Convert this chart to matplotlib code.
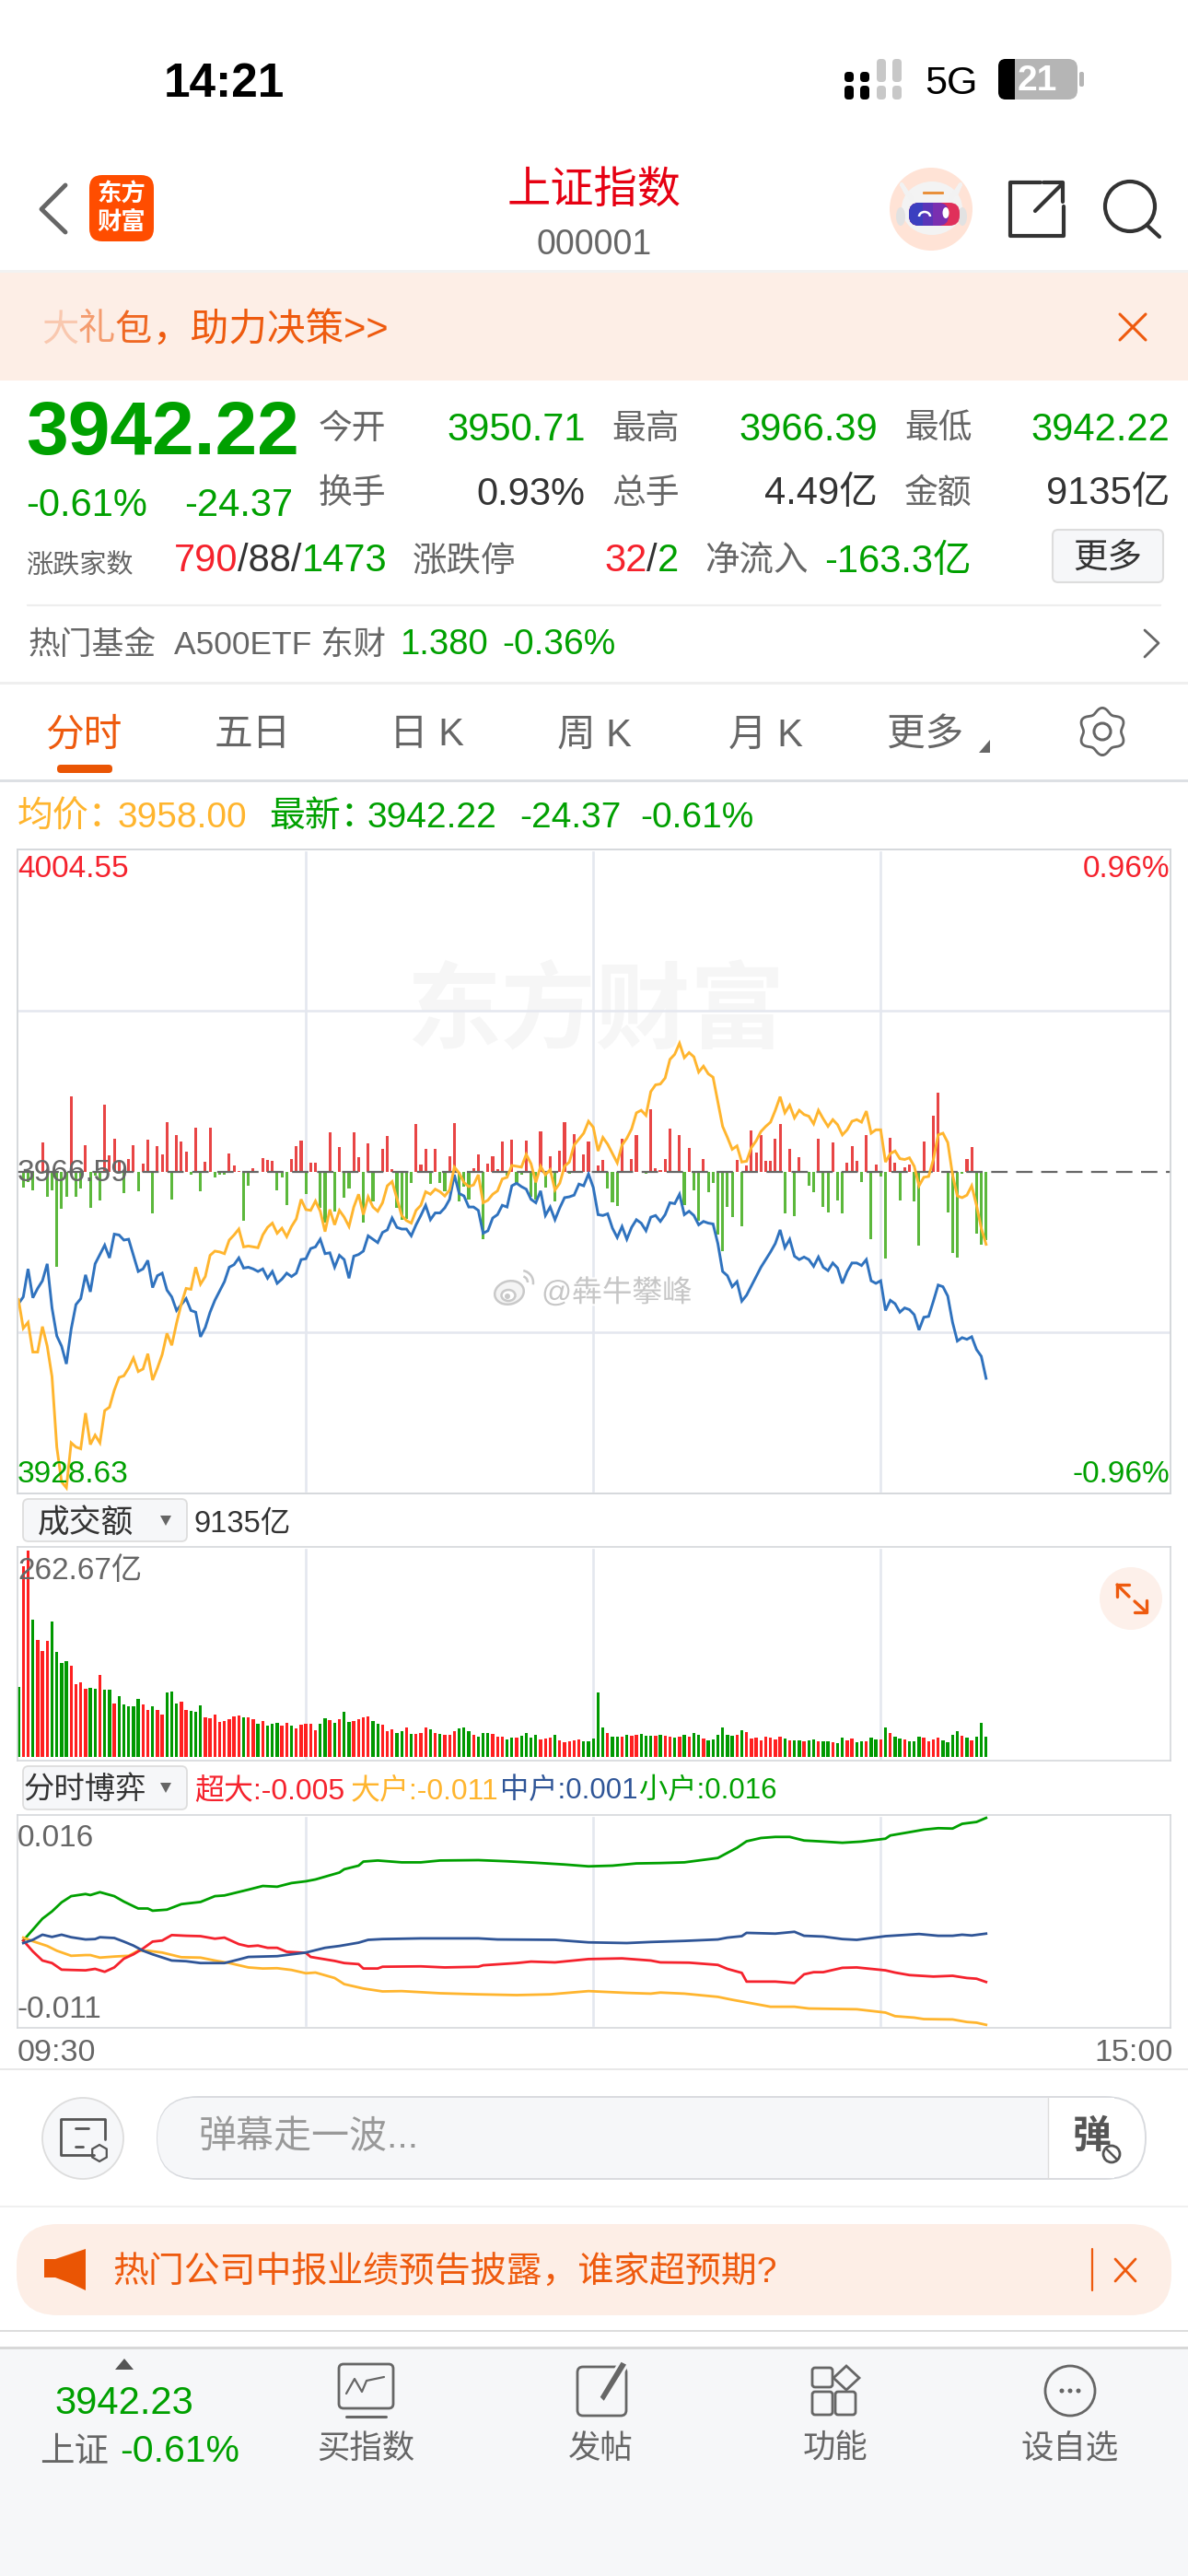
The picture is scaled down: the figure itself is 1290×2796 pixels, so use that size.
import matplotlib
matplotlib.use("Agg")
import matplotlib.pyplot as plt
import matplotlib.patheffects as pe
import numpy as np
from matplotlib.patches import Arc, Circle, Ellipse, FancyBboxPatch, Polygon, Rectangle, RegularPolygon

plt.rcParams["font.family"] = ["Liberation Sans", "Noto Sans CJK SC"]
plt.rcParams["axes.unicode_minus"] = False

# 分时 price, one value per minute from 09:30
price = [
    3951.0,3951.8,3955.1,3951.7,3952.8,3953.7,3955.7,3950.5,3947.2,3946.0,
    3943.9,3948.0,3950.9,3951.6,3954.4,3952.4,3955.7,3956.8,3957.9,3956.4,
    3959.2,3959.1,3958.5,3958.6,3956.7,3954.8,3955.1,3956.1,3952.9,3954.3,
    3954.6,3952.6,3951.8,3950.2,3950.9,3951.6,3950.2,3950.0,3947.1,3948.2,
    3950.0,3951.4,3952.5,3953.6,3955.3,3955.6,3956.4,3955.2,3955.3,3955.1,
    3954.8,3955.1,3954.0,3954.8,3953.4,3953.9,3954.6,3954.2,3954.6,3956.2,
    3956.3,3957.5,3957.7,3958.6,3956.9,3957.0,3955.3,3956.7,3956.2,3954.0,
    3956.6,3956.8,3957.2,3959.0,3958.6,3958.2,3959.4,3959.7,3961.1,3960.0,
    3959.8,3959.8,3959.0,3960.3,3961.4,3962.6,3960.9,3961.7,3961.7,3962.3,
    3963.3,3966.2,3964.0,3963.7,3962.4,3962.4,3962.0,3959.3,3959.6,3961.1,
    3961.5,3962.6,3962.4,3964.9,3965.2,3964.8,3964.5,3963.3,3962.9,3964.3,
    3961.4,3962.4,3960.9,3962.3,3963.5,3963.6,3963.8,3965.1,3964.9,3966.3,
    3964.7,3961.5,3961.4,3961.6,3959.9,3958.8,3960.1,3958.6,3960.0,3960.9,
    3960.5,3959.6,3961.2,3961.4,3960.7,3961.5,3962.9,3962.8,3963.9,3961.5,
    3961.9,3961.4,3960.3,3960.7,3960.5,3960.4,3958.1,3954.8,3954.3,3953.0,
    3953.6,3951.3,3952.0,3953.1,3954.2,3955.3,3956.2,3957.1,3958.1,3959.7,
    3957.6,3958.6,3956.6,3956.2,3956.5,3956.2,3955.4,3956.5,3955.3,3954.9,
    3955.8,3955.2,3953.4,3954.8,3955.8,3955.8,3955.5,3956.2,3953.7,3953.4,
    3953.7,3950.2,3951.4,3951.0,3950.0,3950.5,3950.3,3949.7,3947.9,3949.4,
    3949.5,3951.3,3953.2,3953.0,3951.9,3948.8,3946.6,3947.0,3946.8,3947.1,
    3945.6,3944.8,3942.2,
]

# 均价
avg_price = [
    3951.5,3948.1,3948.8,3945.3,3945.3,3948.3,3946.0,3942.4,3934.1,3930.0,
    3929.3,3934.6,3934.1,3933.9,3938.1,3934.4,3935.5,3934.6,3938.4,3938.8,
    3940.8,3942.3,3942.5,3943.4,3944.6,3943.0,3943.3,3945.1,3942.0,3943.4,
    3945.0,3947.5,3946.1,3948.7,3951.0,3952.8,3952.7,3955.3,3953.3,3954.2,
    3956.7,3957.2,3957.1,3956.9,3958.5,3959.1,3959.8,3957.7,3957.8,3957.7,
    3957.6,3959.1,3960.0,3960.5,3959.3,3959.9,3958.9,3960.1,3961.0,3963.3,
    3962.1,3962.0,3963.1,3961.9,3959.5,3962.1,3960.3,3962.0,3961.2,3960.1,
    3962.4,3963.9,3961.5,3963.6,3962.4,3961.9,3962.9,3964.9,3965.4,3963.4,
    3961.4,3960.8,3960.5,3962.0,3962.6,3964.2,3963.9,3964.5,3964.2,3963.7,
    3964.4,3967.1,3966.4,3965.3,3964.8,3965.0,3966.2,3962.9,3963.2,3963.9,
    3964.3,3965.7,3965.9,3967.3,3967.2,3967.1,3968.6,3967.5,3965.3,3967.2,
    3966.2,3966.8,3964.4,3965.2,3967.2,3967.7,3969.7,3970.4,3971.1,3972.5,
    3971.8,3969.0,3970.6,3969.8,3968.7,3967.6,3969.7,3970.5,3971.6,3973.5,
    3973.8,3973.2,3976.0,3976.8,3976.9,3977.6,3979.8,3980.4,3981.7,3980.0,
    3980.6,3980.1,3978.3,3979.0,3978.1,3977.7,3974.8,3971.9,3970.6,3969.2,
    3969.6,3967.7,3967.8,3969.4,3970.2,3971.3,3971.9,3972.4,3973.8,3975.4,
    3973.5,3974.4,3972.9,3973.8,3973.3,3973.1,3972.2,3973.8,3972.8,3971.9,
    3972.7,3972.1,3970.9,3971.5,3972.5,3972.7,3972.4,3973.7,3971.1,3971.5,
    3971.5,3967.7,3968.7,3969.0,3968.1,3968.0,3968.2,3967.2,3964.9,3965.9,
    3966.0,3968.0,3970.9,3971.1,3970.0,3966.2,3963.7,3963.5,3963.8,3964.9,
    3962.6,3959.9,3958.0,
]

# red/green strength bars round the prev close line, in their own units
flow_bars = [
    0,-38,-25,-45,0,67,-60,-45,-222,-88,
    -60,175,-60,-40,62,-85,-10,-68,156,37,
    77,25,-50,28,62,-46,18,75,-97,60,
    40,114,-65,84,70,47,-7,101,-46,22,
    101,-15,-8,-8,41,14,1,-115,-33,8,
    -2,31,26,25,-45,-13,-78,28,60,73,
    -52,20,21,-85,-120,92,-93,57,-62,-40,
    91,34,-120,65,-70,0,53,83,5,-85,
    -112,-110,-27,111,17,53,-30,52,-27,-47,
    36,113,-70,-35,-65,8,40,-157,19,36,
    5,70,-10,74,-30,-8,72,-60,-65,94,
    -38,36,-70,48,114,-5,88,0,40,70,
    0,15,27,-40,-72,-80,76,0,30,84,
    0,-6,144,8,4,30,100,0,85,-78,
    54,-44,-115,30,-48,-27,-148,-185,-82,-107,
    27,-127,14,96,43,84,24,25,76,110,
    -97,53,-105,33,0,-33,-48,76,-82,-95,
    67,-68,-98,21,58,24,-24,84,-158,17,
    -12,-203,78,20,-68,10,17,-70,-172,69,
    0,130,183,-3,-95,-190,-200,-5,28,57,
    -146,-170,-159,
]

# 成交额 per minute, 亿
turnover = [
    89.0,243.2,262.7,174.7,149.2,135.3,147.8,172.3,133.9,120.0,
    121.8,116.3,93.6,95.0,87.6,88.5,86.6,104.2,85.7,85.7,
    68.6,77.8,67.2,64.4,64.4,74.1,67.2,59.8,64.4,60.2,
    54.2,82.0,83.9,68.6,70.9,60.2,58.8,58.4,65.8,51.0,
    49.6,54.2,44.9,46.3,49.1,52.4,53.3,51.0,51.0,48.6,
    42.6,45.9,40.3,42.2,43.6,40.3,44.0,40.3,36.6,41.7,
    42.6,42.6,34.7,42.6,49.6,47.7,44.0,49.1,57.4,44.5,
    45.9,49.1,51.0,51.9,46.8,42.6,41.7,33.8,35.7,31.0,
    33.8,38.0,30.1,30.1,30.6,38.0,35.2,31.5,29.7,28.7,
    28.7,32.9,36.6,37.5,33.4,29.2,26.4,31.0,31.0,29.7,
    26.4,25.9,22.7,25.5,24.6,27.3,30.6,25.0,29.2,22.7,
    24.1,24.6,29.2,21.8,19.0,19.9,21.8,22.7,19.9,20.4,
    23.6,82.5,38.0,31.0,26.9,26.9,26.9,28.7,27.3,28.3,
    29.7,27.3,27.3,27.3,29.2,27.3,26.9,25.0,26.4,28.7,
    26.4,31.0,28.3,23.6,22.2,23.2,28.7,38.5,28.7,27.3,
    28.3,34.7,32.0,24.1,25.0,21.8,25.9,24.6,23.2,26.4,
    24.1,21.3,21.3,21.8,20.4,21.3,22.7,19.9,19.9,19.9,
    19.5,18.5,25.0,21.8,24.1,19.5,19.9,20.4,25.5,22.7,
    22.7,38.5,30.6,26.4,24.1,22.7,20.4,20.8,26.9,24.6,
    19.9,23.2,24.6,22.2,19.5,28.7,32.9,27.3,24.6,22.2,
    26.4,44.0,26.9,
]
turnover_dir = (
    "GRRGRRRGGG" "GRRRRGGRGG" "RGGGGGRRGR" "RGGGRRGGGR" "RRRRRRRGRR"
    "GRGGGRRGRR" "RRRGGRGRGG" "RRRRGGRRRG" "GRGRRRGRGR" "RRGGGRGGGR"
    "RRGGRGGGGR" "RRGRRRRRGG" "GGGRGGRGRR" "GGGRGRRGRG" "RGGRGGGGGG"
    "RGRRRRRRRR" "GRGGRGGRGG" "RGGRRGGRGG" "RGRGGRGGGR" "RRRGGGGRGR" "GGG"
)

# 分时博弈, sampled minutes and values in units of 0.001
green_min = [1,3,5,7,9,11,14,15,17,20,22,25,27,28,31,34,38,41,43,48,51,54,57,60,62,67,68,71,72,75,80,84,88,96,102,108,114,119,124,129,134,139,146,148,150,152,155,158,161,164,167,172,176,181,182,186,189,192,195,197,200,202]
green_val = [0,1.42,2.85,3.80,4.98,5.79,6.07,5.93,6.31,5.79,5.08,4.18,4.18,3.89,4.03,4.75,5.03,5.79,5.88,6.64,7.12,7.02,7.50,7.73,7.97,8.87,9.30,9.77,10.30,10.44,10.20,10.20,10.44,10.49,10.34,10.15,9.92,9.68,9.77,10.06,10.11,10.20,10.77,11.44,12.10,12.95,13.38,13.52,13.52,13.05,12.95,12.76,12.91,13.29,13.71,14.14,14.47,14.66,14.61,15.23,15.47,16.0]
yellow_min = [1,3,6,8,11,14,15,17,20,23,25,27,30,34,38,41,44,48,51,54,57,60,62,66,68,72,76,80,88,96,104,111,119,127,132,134,139,146,149,152,157,162,165,170,175,181,183,187,189,195,198,200,202]
yellow_val = [0.38,-0.09,-0.71,-1.33,-1.99,-1.90,-1.90,-2.23,-2.09,-1.99,-1.33,-1.33,-1.57,-2.18,-2.23,-2.61,-2.94,-3.51,-3.65,-3.61,-3.84,-4.27,-4.18,-4.89,-5.69,-6.26,-6.64,-6.60,-6.88,-7.02,-7.12,-7.02,-6.60,-6.83,-6.93,-6.79,-6.93,-7.35,-7.73,-8.07,-8.64,-8.64,-8.87,-8.92,-8.97,-9.40,-9.87,-10.06,-10.25,-10.30,-10.63,-10.72,-11.0]
red_min = [1,3,5,7,9,11,14,16,18,20,22,24,26,28,30,32,35,38,41,43,46,48,50,52,54,56,60,61,66,68,71,72,75,76,84,89,96,97,104,107,112,119,126,132,134,140,146,148,151,152,158,162,164,166,168,172,175,181,183,186,191,195,198,200,202]
red_val = [0,-1.42,-2.61,-2.94,-3.80,-3.84,-3.89,-3.70,-4.08,-3.51,-2.37,-1.80,-1.04,-0.14,0,0.71,0.62,0.57,0.24,0.38,-0.47,-0.76,-0.66,-0.95,-0.95,-1.47,-1.61,-2.14,-2.66,-2.94,-3.08,-3.65,-3.65,-3.42,-3.37,-3.51,-3.42,-3.23,-2.94,-2.75,-2.85,-2.42,-2.33,-2.61,-2.85,-2.89,-3.18,-3.70,-4.22,-5.36,-5.36,-5.55,-4.41,-4.13,-4.13,-3.56,-3.51,-3.89,-4.18,-4.51,-4.70,-4.60,-4.89,-4.98,-5.41]
blue_min = [1,3,5,7,9,11,14,16,17,20,22,24,26,28,32,35,38,43,46,48,54,60,64,67,71,73,76,84,96,100,112,119,127,132,139,146,148,151,152,158,162,164,168,172,175,181,188,192,195,197,199,202]
blue_val = [-0.33,0.09,0.76,0.47,0.76,0.43,0.14,0.19,0.43,0.33,-0.14,-0.66,-1.33,-1.80,-2.61,-2.70,-2.94,-2.94,-2.47,-2.14,-2.04,-1.57,-0.95,-0.71,-0.28,0.09,0.19,0.28,0.28,0.14,0.09,-0.24,-0.33,-0.19,-0.05,0.14,0.38,0.57,1.0,0.90,1.14,0.62,0.52,0.19,0.09,0.57,0.85,0.62,0.62,0.76,0.66,0.90]

prev_close = 3966.59
price_span = 37.96
grid_minutes = [60, 120, 180]

RED = "#F5222D"
GREEN = "#00A000"
ORANGE = "#EE5A0E"
YELLOW = "#FFB52E"
BLUE = "#2F72BE"
DARK = "#333333"
GREY = "#666666"
FRAME = "#D5D8DC"
GRID = "#E4E7EF"
PEACH = "#FDEEE6"
PANEL = "#F6F7F9"

W, H = 1290, 2796
fig = plt.figure(figsize=(W / 100, H / 100), dpi=100, facecolor="white")


def rect(x0, y0, x1, y1):
    return [x0 / W, 1 - y1 / H, (x1 - x0) / W, (y1 - y0) / H]


def make_layer(z):
    a = fig.add_axes([0, 0, 1, 1], zorder=z)
    a.set_xlim(0, W)
    a.set_ylim(H, 0)
    a.axis("off")
    a.patch.set_alpha(0)
    return a


back = make_layer(0)
ui = make_layer(5)
renderer = fig.canvas.get_renderer()


def txt(x, y, s, fs, color=DARK, ha="left", weight="normal", alpha=1, layer=None):
    # text sits a little high with va=center, nudge it down
    return (layer or ui).text(x, y + 5.5, s, fontsize=fs, color=color, ha=ha, va="center",
                              fontweight=weight, alpha=alpha)


def seq(x, y, parts, fs):
    for s, c in parts:
        t = txt(x, y, s, fs, c)
        x += t.get_window_extent(renderer).width


def line(xs, ys, color, lw=2.0, layer=None, **kw):
    (layer or ui).plot(xs, ys, color=color, lw=lw, solid_capstyle="round", **kw)


def rbox(x0, y0, x1, y1, r, fc, ec="none", lw=1.0, layer=None):
    (layer or ui).add_patch(FancyBboxPatch((x0, y0), x1 - x0, y1 - y0,
                                           boxstyle=f"round,pad=0,rounding_size={r}",
                                           fc=fc, ec=ec, lw=lw))


def panel_axes(x0, y0, x1, y1, z=1):
    a = fig.add_axes(rect(x0, y0, x1, y1), zorder=z)
    a.set_xlim(-0.3, 240.5)
    a.set_xticks([])
    a.set_yticks([])
    a.patch.set_alpha(0)
    for s in a.spines.values():
        s.set_color(FRAME)
        s.set_linewidth(1.2)
    return a


# ---- main price panel
ax_flow = panel_axes(18.5, 922, 1271, 1621, z=1)
ax_flow.set_ylim(-750.7, 750.7)
minutes = np.arange(len(price))
for m in grid_minutes:
    ax_flow.axvline(m, ymin=0.005, ymax=0.995, color=GRID, lw=1.9, zorder=0)
ax_flow.axhline(375, color=GRID, lw=1.8, zorder=0)
ax_flow.axhline(-375, color=GRID, lw=1.8, zorder=0)
flow = np.array(flow_bars)
ax_flow.bar(minutes, flow, width=0.6, color=np.where(flow > 0, "#E84545", "#5CB83C"), zorder=1)

ax_price = panel_axes(18.5, 922, 1271, 1621, z=2)
ax_price.set_ylim(prev_close - price_span, prev_close + price_span)
ax_price.axhline(prev_close, color="#666666", lw=1.6, dashes=(8.0, 4.2))
ax_price.plot(minutes, price, color=BLUE, lw=2.1, solid_joinstyle="miter")
ax_price.plot(minutes, avg_price, color=YELLOW, lw=2.1, solid_joinstyle="miter")

# ---- turnover panel
ax_vol = panel_axes(18.5, 1679, 1271, 1911)
ax_vol.set_ylim(-4.1, 267.4)
for m in grid_minutes:
    ax_vol.axvline(m, ymin=0.015, ymax=0.985, color=GRID, lw=1.9, zorder=0)
ax_vol.bar(np.arange(len(turnover)), turnover, width=0.64,
           color=["#FF2020" if d == "R" else "#009900" for d in turnover_dir], zorder=1)

# ---- 分时博弈 panel
ax_game = panel_axes(18.5, 1970, 1271, 2201)
ax_game.set_ylim(-0.01139, 0.01638)
for m in grid_minutes:
    ax_game.axvline(m, ymin=0.015, ymax=0.985, color=GRID, lw=1.9, zorder=0)
ax_game.plot(green_min, np.array(green_val) / 1000, color=GREEN, lw=2.0)
ax_game.plot(yellow_min, np.array(yellow_val) / 1000, color=YELLOW, lw=2.0)
ax_game.plot(red_min, np.array(red_val) / 1000, color="#F5222D", lw=2.0)
ax_game.plot(blue_min, np.array(blue_val) / 1000, color="#2F5597", lw=2.0)

# ---- watermarks
txt(647, 1098, "东方财富", 74, "#F6F6F6", ha="center", weight="bold", layer=back)
ui.add_patch(Ellipse((553, 1403), 32, 25, angle=-15, fc="#F4F4F4", ec="#C9C9C9", lw=1.8))
ui.add_patch(Ellipse((552, 1406), 15, 12, fc="white", ec="#C9C9C9", lw=1.8))
ui.add_patch(Circle((551, 1407), 3, fc="#C9C9C9", ec="none"))
ui.add_patch(Arc((566, 1392), 14, 14, theta1=-70, theta2=0, ec="#C9C9C9", lw=1.8))
ui.add_patch(Arc((566, 1392), 26, 26, theta1=-80, theta2=10, ec="#C9C9C9", lw=1.8))
wb = txt(588, 1398, "@犇牛攀峰", 23.5, "#C6C6C6")
wb.set_path_effects([pe.withStroke(linewidth=3, foreground="white")])

# ---- status bar
txt(243, 86, "14:21", 37, "black", ha="center", weight="bold")
for cx, tall, col in [(922, 0, "black"), (939, 0, "black"), (957, 1, "#C8C8C8"), (974, 1, "#C8C8C8")]:
    rbox(cx - 5, 93, cx + 5, 108, 4, col)
    rbox(cx - 5, 64 if tall else 78, cx + 5, 89, 4, col)
txt(1033, 86, "5G", 31, "black", ha="center")
rbox(1084, 64, 1170, 108, 10, "#B5B5B5")
rbox(1084, 64, 1102, 108, 8, "black")
ui.add_patch(Rectangle((1094, 64), 8, 44, fc="black", ec="none"))
txt(1126, 82, "21", 28, "white", ha="center", weight="bold")
rbox(1172, 78, 1177, 94, 2, "#B5B5B5")

# ---- nav bar
line([71, 45, 71], [201, 227, 252], GREY, lw=3.5)
rbox(97, 190, 167, 262, 14, "#FF4D00")
txt(132, 206, "东方", 19, "white", ha="center", weight="bold")
txt(132, 236, "财富", 19, "white", ha="center", weight="bold")
txt(645, 202, "上证指数", 34, "#E60012", ha="center")
txt(645, 260, "000001", 27, GREY, ha="center")
# robot avatar
ui.add_patch(Circle((1011, 227), 45, fc="#FFE3D6", ec="none"))
line([984, 979, 990], [210, 200, 216], "#F2F2F2", lw=3)
line([1039, 1043, 1032], [210, 200, 216], "#F2F2F2", lw=3)
ui.add_patch(Ellipse((1012, 226), 66, 58, fc="#F3F3F3", ec="none"))
ui.add_patch(Ellipse((978, 235), 10, 20, fc="#E2E2E2", ec="none"))
ui.add_patch(Ellipse((1045, 235), 10, 20, fc="#E2E2E2", ec="none"))
rbox(1002, 208, 1025, 211, 1, "#E9903A")
rbox(987, 220, 1042, 245, 11, "#E0305A")
rbox(987, 220, 1030, 245, 11, "#7A2FB0")
rbox(987, 220, 1013, 245, 11, "#3B3FC0")
ui.add_patch(Rectangle((1002, 220), 11, 25, fc="#5A35B8", ec="none"))
ui.add_patch(Arc((1004, 235), 12, 10, theta1=180, theta2=360, ec="white", lw=1.8))
ui.add_patch(Ellipse((1027, 231), 7, 12, fc="white", ec="none"))
line([1130, 1097, 1097, 1155, 1155], [198, 198, 256, 256, 224], DARK, lw=3)
line([1124, 1154], [229, 199], DARK, lw=3)
line([1133, 1154, 1154], [198, 198, 219], DARK, lw=3)
ui.add_patch(Circle((1227, 224), 27, fc="none", ec=DARK, lw=3))
line([1246, 1259], [245, 257], DARK, lw=3)

# ---- promo banner
ui.add_patch(Rectangle((0, 293), W, 3, fc="#F2F2F2", ec="none"))
ui.add_patch(Rectangle((0, 296), W, 117, fc=PEACH, ec="none"))
for i, (ch, al) in enumerate(zip("大礼包", (0.25, 0.55, 0.9))):
    txt(45 + 40 * i, 353, ch, 29, ORANGE, alpha=al)
txt(165, 353, "，助力决策>>", 30, ORANGE)
line([1216, 1244], [341, 369], ORANGE, lw=2.2)
line([1216, 1244], [369, 341], ORANGE, lw=2.2)

# ---- quote block
txt(28, 467, "3942.22", 59, GREEN, weight="bold")
for label, x, val, xr, col, y in [
    ("今开", 346, "3950.71", 636, GREEN, 461),
    ("最高", 664, "3966.39", 953, GREEN, 461),
    ("最低", 982, "3942.22", 1270, GREEN, 461),
    ("换手", 346, "0.93%", 635, DARK, 531),
    ("总手", 664, "4.49亿", 953, DARK, 531),
    ("金额", 982, "9135亿", 1270, DARK, 531),
]:
    txt(x, y, label, 26.5, GREY)
    txt(xr, y, val, 30, col, ha="right")
txt(28, 543, "-0.61%", 30, GREEN)
txt(318, 543, "-24.37", 30, GREEN, ha="right")
txt(28, 609, "涨跌家数", 21, GREY)
seq(189, 604, [("790", RED), ("/88/", DARK), ("1473", GREEN)], 30)
txt(448, 604, "涨跌停", 27, GREY)
seq(656, 604, [("32", RED), ("/", DARK), ("2", GREEN)], 30)
txt(765, 604, "净流入", 27, GREY)
txt(895, 604, "-163.3亿", 30, GREEN)
rbox(1143, 575, 1263, 632, 6, PANEL, ec="#DDDDDD", lw=1.5)
txt(1203, 600, "更多", 27, DARK, ha="center")
line([30, 1260], [657, 657], "#EEEEEE", lw=1.6)
txt(31, 695, "热门基金", 25, GREY)
txt(189, 695, "A500ETF 东财", 25.5, GREY)
txt(434, 695, "1.380", 27.5, GREEN)
txt(545, 695, "-0.36%", 28, GREEN)
line([1243, 1258, 1243], [684, 698, 713], GREY, lw=2)
ui.add_patch(Rectangle((0, 740), W, 3, fc="#EFEFEF", ec="none"))

# ---- tabs
txt(91, 793, "分时", 30, ORANGE, ha="center")
for label, cx in [("五日", 274), ("日 K", 463), ("周 K", 645), ("月 K", 831), ("更多", 1005)]:
    txt(cx, 793, label, 30, GREY, ha="center")
ui.add_patch(Polygon([(1075, 803), (1075, 817), (1063, 817)], fc=GREY, ec="none"))
gear_t = np.linspace(0, 2 * np.pi, 200)
gear_r = 23 + 2.6 * np.cos(6 * gear_t)
line(1197 + gear_r * np.sin(gear_t), 794 + gear_r * np.cos(gear_t), GREY, lw=2)
ui.add_patch(Circle((1197, 794), 9, fc="none", ec=GREY, lw=2.2))
rbox(62, 830, 122, 839, 4, "#EA5504")
ui.add_patch(Rectangle((0, 846), W, 3, fc="#DDE0E4", ec="none"))

# ---- legend row
txt(19, 882, "均价：", 28, YELLOW)
txt(128, 882, "3958.00", 28, YELLOW)
txt(292, 882, "最新：", 28, GREEN)
txt(399, 882, "3942.22", 28, GREEN)
txt(564, 882, "-24.37", 28, GREEN)
txt(695, 882, "-0.61%", 28, GREEN)

# ---- price panel labels
txt(19, 938, "4004.55", 24, RED)
txt(19, 1268, "3966.59", 24, GREY)
txt(19, 1595, "3928.63", 24, GREEN)
txt(1270, 938, "0.96%", 24, RED, ha="right")
txt(1270, 1595, "-0.96%", 24, GREEN, ha="right")

# ---- turnover header
rbox(25, 1627, 203, 1673, 6, PANEL, ec="#DDDDDD", lw=1.3)
txt(41, 1648, "成交额", 25, DARK)
ui.add_patch(Polygon([(174, 1645), (186, 1645), (180, 1656)], fc=GREY, ec="none"))
txt(211, 1649, "9135亿", 23.5, DARK)
txt(19, 1700, "262.67亿", 24, GREY)
ui.add_patch(Circle((1228, 1735), 34, fc="#FDF0EA", ec="none"))
line([1213, 1226], [1720, 1733], ORANGE, lw=2.4)
line([1213, 1213, 1226], [1733, 1720, 1720], ORANGE, lw=2.4)
line([1232, 1245], [1738, 1750], ORANGE, lw=2.4)
line([1245, 1245, 1232], [1737, 1750, 1750], ORANGE, lw=2.4)

# ---- game header
rbox(25, 1917, 203, 1964, 6, PANEL, ec="#DDDDDD", lw=1.3)
txt(26, 1938, "分时博弈", 24, DARK)
ui.add_patch(Polygon([(174, 1935), (186, 1935), (180, 1946)], fc=GREY, ec="none"))
txt(211, 1939, "超大:-0.005", 23, RED)
txt(381, 1939, "大户:-0.011", 23, YELLOW)
txt(543, 1939, "中户:0.001", 22.5, "#2F5597")
txt(694, 1939, "小户:0.016", 22.5, GREEN)
txt(19, 1990, "0.016", 24, GREY)
txt(19, 2176, "-0.011", 24, GREY)
txt(19, 2223, "09:30", 24.5, GREY)
txt(1274, 2223, "15:00", 24.5, GREY, ha="right")
line([0, W], [2245.5, 2245.5], "#E4E4E4", lw=1.2)

# ---- comment row
ui.add_patch(Circle((90, 2321), 44, fc=PANEL, ec="#DDDDDD", lw=1.3))
line([113, 66, 66, 102], [2300, 2300, 2339, 2339], "#555555", lw=2)
line([114, 114], [2300, 2322], "#555555", lw=2)
line([82, 96], [2310, 2310], "#555555", lw=2)
line([82, 90], [2330, 2330], "#555555", lw=2)
ui.add_patch(RegularPolygon((108, 2337), 6, radius=9, fc=PANEL, ec="#555555", lw=1.6))
rbox(171, 2276, 1244, 2365, 44, "white", ec="#D9DBDF", lw=1.4)
rbox(171, 2277, 1200, 2364, 43, PANEL)
ui.add_patch(Rectangle((1130, 2277), 80, 87, fc="white", ec="none"))
ui.add_patch(Rectangle((1130, 2277), 8, 87, fc=PANEL, ec="none"))
line([1138, 1138], [2277, 2364], "#DDDDDD", lw=1)
txt(216, 2314, "弹幕走一波...", 29.5, "#999999")
txt(1186, 2314, "弹", 30, "#555555", ha="center", weight="bold")
ui.add_patch(Circle((1207, 2338), 9, fc="white", ec="#555555", lw=2))
line([1201, 1213], [2332, 2344], "#555555", lw=1.8)
line([0, W], [2395, 2395], "#EEEEEE", lw=1.2)

# ---- notice pill
rbox(18, 2414, 1272, 2513, 45, PEACH)
ui.add_patch(Polygon([(48, 2452), (60, 2452), (93, 2441), (93, 2486), (76, 2478), (60, 2472), (48, 2472)],
                     fc="#EA5504", ec="none"))
txt(122, 2462, "热门公司中报业绩预告披露，谁家超预期?", 28, ORANGE)
line([1186, 1186], [2441, 2486], ORANGE, lw=1.6)
line([1211, 1233], [2452, 2476], ORANGE, lw=2)
line([1211, 1233], [2476, 2452], ORANGE, lw=2)
line([0, W], [2530, 2530], "#DDDDDD", lw=1.4)

# ---- bottom bar
ui.add_patch(Rectangle((0, 2548), W, H - 2548, fc=PANEL, ec="none"))
ui.add_patch(Rectangle((0, 2547), W, 3, fc="#D8D8D8", ec="none"))
ui.add_patch(Polygon([(135, 2560), (125, 2572), (145, 2572)], fc="#555555", ec="none"))
txt(135, 2603, "3942.23", 30, GREEN, ha="center")
txt(43, 2656, "上证", 27, GREY)
txt(130, 2656, "-0.61%", 29.5, GREEN)
for label, cx in [("买指数", 397), ("发帖", 652), ("功能", 907), ("设自选", 1162)]:
    txt(cx, 2653, label, 25.5, GREY, ha="center")
rbox(368, 2566, 427, 2614, 5, "none", ec=GREY, lw=2)
line([376, 385, 393, 398, 417], [2598, 2582, 2596, 2584, 2580], GREY, lw=1.6)
line([376, 419], [2623, 2623], GREY, lw=2.2)
rbox(627, 2569, 680, 2622, 6, PANEL, ec=GREY, lw=2)
ui.add_patch(Polygon([(650, 2602), (674, 2562), (682, 2566), (656, 2608)], fc=GREY, ec=PANEL, lw=2))
for gx, gy in [(882, 2596), (907, 2596)]:
    rbox(gx, gy, gx + 22, gy + 25, 3, "none", ec=GREY, lw=2)
rbox(882, 2570, 904, 2591, 3, "none", ec=GREY, lw=2)
ui.add_patch(Polygon([(919, 2568), (933, 2581), (919, 2594), (905, 2581)], fc="none", ec=GREY, lw=2))
ui.add_patch(Circle((1162, 2595), 27, fc="none", ec=GREY, lw=2))
for dx in (-9, 0, 9):
    ui.add_patch(Circle((1162 + dx, 2595), 2.5, fc=GREY, ec="none"))

fig.savefig("out.png", dpi=100, facecolor="white")
